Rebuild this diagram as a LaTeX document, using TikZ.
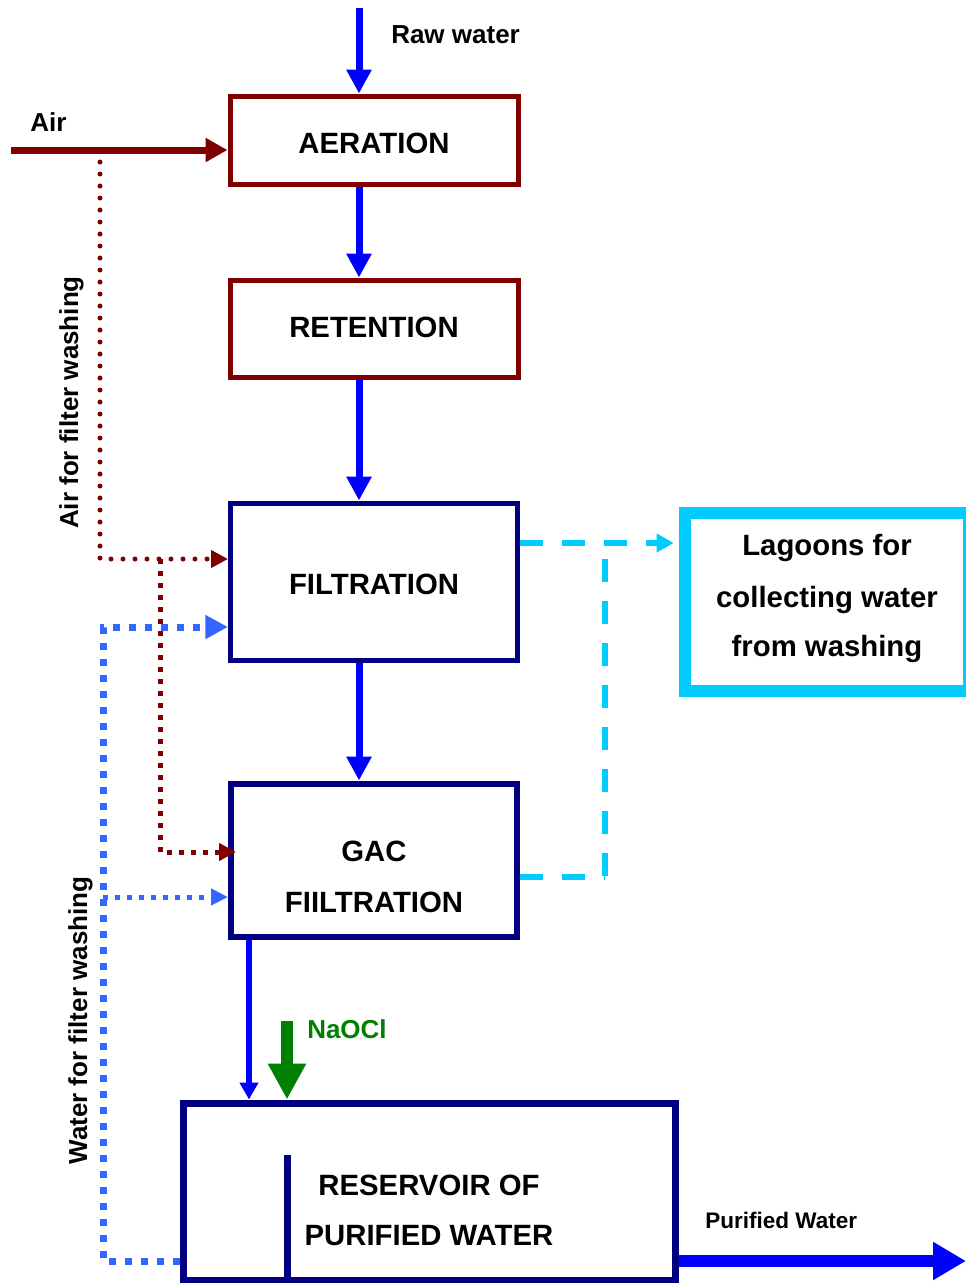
\documentclass[tikz,border=0pt]{standalone}
\usepackage{fontspec}
\setmainfont{Liberation Sans}
\usetikzlibrary{arrows.meta}
\definecolor{airred}{RGB}{128,0,0}
\definecolor{boxnavy}{RGB}{0,0,128}
\definecolor{flowblue}{RGB}{0,0,255}
\definecolor{washcyan}{RGB}{0,204,255}
\definecolor{washblue}{RGB}{51,102,255}
\definecolor{chlorgreen}{RGB}{0,128,0}
\begin{document}
\begin{tikzpicture}[x=0.75pt,y=-0.75pt,
  stagebox/.style={draw,fill=white,inner sep=0pt,minimum width=#1},
  boxtext/.style={font=\fontsize{22}{26}\selectfont\bfseries,anchor=base,inner sep=0pt},
  lbl/.style={font=\fontsize{19.5}{23}\selectfont\bfseries,inner sep=0pt},
  flow/.style={draw=flowblue,line width=5.25pt,-{Triangle[length=18pt,width=18pt]}},
  airflow/.style={draw=airred,line width=5.25pt,-{Triangle[length=16.5pt,width=17.25pt]}},
  airdots/.style={draw=airred,line width=3.75pt,line cap=round,dash pattern=on 0pt off 9pt,
    -{Triangle[length=12.75pt,width=12.75pt,line cap=butt]}},
  airsquares/.style={draw=airred,line width=3.75pt,dash pattern=on 3.75pt off 5.25pt,
    -{Triangle[length=12.75pt,width=12.75pt]}},
  watersq/.style={draw=washblue,line width=5.25pt,dash pattern=on 5.25pt off 6.75pt,
    -{Triangle[length=17pt,width=17pt]}},
  watersmall/.style={draw=washblue,line width=3.75pt,dash pattern=on 3.75pt off 5.25pt,
    -{Triangle[length=12.75pt,width=12pt]}},
  drain/.style={draw=washcyan,line width=4.5pt,dash pattern=on 17.25pt off 14.25pt},
  drainarrow/.style={drain,-{Triangle[length=12.75pt,width=13.5pt]}}
]
\useasboundingbox (0,0) rectangle (966,1283);

% process stages
\node[stagebox=216pt,draw=airred,line width=3.75pt,minimum height=66pt] (aer) at (374,140) {};
\node[stagebox=216pt,draw=airred,line width=3.75pt,minimum height=72.75pt] (ret) at (374,328.5) {};
\node[stagebox=215.25pt,draw=boxnavy,line width=3.75pt,minimum height=117.75pt] (fil) at (374,581.5) {};
\node[stagebox=214.5pt,draw=boxnavy,line width=4.5pt,minimum height=114.75pt] (gac) at (374,860) {};
\node[stagebox=213pt,draw=washcyan,line width=9pt,minimum height=133.5pt] (lag) at (827,602) {};
\node[stagebox=369pt,draw=boxnavy,line width=5.25pt,minimum height=132.75pt] (res) at (429,1191.5) {};

% baffle inside the reservoir
\coordinate (baffle) at (287,1155);
\draw[boxnavy,line width=5.25pt] (baffle) -- (baffle |- res.south);

% stage captions
\node[boxtext] (aer-t) at (374,153) {AERATION};
\node[boxtext] (ret-t) at (374,337) {RETENTION};
\node[boxtext] (fil-t) at (374,594) {FILTRATION};
\node[boxtext] (gac-t1) at (374,861) {GAC};
\node[boxtext] (gac-t2) at (374,912) {FIILTRATION};
\node[boxtext] (lag-t1) at (827,555) {Lagoons for};
\node[boxtext] (lag-t2) at (827,607) {collecting water};
\node[boxtext] (lag-t3) at (827,656) {from washing};
\node[boxtext] (res-t1) at (429,1195) {RESERVOIR OF};
\node[boxtext] (res-t2) at (429,1245) {PURIFIED WATER};

% main water line
\coordinate (rawin) at (359,8);
\draw[flow] (rawin) -- (rawin |- aer.north);
\draw[flow] (rawin |- aer.south) -- (rawin |- ret.north);
\draw[flow] (rawin |- ret.south) -- (rawin |- fil.north);
\draw[flow] (rawin |- fil.south) -- (rawin |- gac.north);
\coordinate (gacout) at (249,0);
\draw[flow,line width=4.5pt,-{Triangle[length=12.75pt,width=13.5pt]}] (gacout |- gac.south) -- (gacout |- res.north);

% air supply
\coordinate (airin) at (11,150);
\draw[airflow] (airin) -- (airin -| aer.west);

% chlorination
\coordinate (naocl) at (287,1021);
\draw[draw=chlorgreen,line width=9pt,-{Triangle[length=27pt,width=27pt]}] (naocl) -- (naocl |- res.north);

% purified water out
\coordinate (outend) at (966,1261);
\draw[flow,line width=9pt,-{Triangle[length=24.75pt,width=27pt]}] (outend -| res.east) -- (outend);

% air for filter washing
\coordinate (airtap) at (100,162);
\coordinate (airbend) at (100,559);
\draw[airdots] (airtap) -- (airbend) -- (airbend -| fil.west);
\coordinate (airsplit) at (160,559);
\coordinate (airgac) at (160,852);
\draw[airsquares,shorten >=-6pt] (airsplit) -- (airgac) -- (airgac -| gac.west);

% water for filter washing
\coordinate (wbot) at (103,1261);
\coordinate (wtop) at (103,627);
\draw[watersq] (wbot -| res.west) -- (wbot) -- (wtop) -- (wtop -| fil.west);
\coordinate (wgac) at (103,897);
\draw[watersmall] (wgac) -- (wgac -| gac.west);

% wash water to lagoons
\coordinate (dtop) at (605,543);
\coordinate (dbot) at (605,877);
\draw[drainarrow,shorten >=4pt] (dtop -| fil.east) -- (dtop -| lag.west);
\draw[drain] (605,559) -- (dbot);
\draw[drain] (dbot -| gac.east) -- (dbot);

% labels
\node[lbl,anchor=base west] (rawlbl) at (391,43) {Raw water};
\node[lbl,anchor=base west] (airlbl) at (30,131) {Air};
\node[lbl,anchor=base,rotate=90] (airwash) at (78,402.5) {Air for filter washing};
\node[lbl,anchor=base,rotate=90] (waterwash) at (87,1020.5) {Water for filter washing};
\node[lbl,anchor=base west,text=chlorgreen] (naocllbl) at (307,1038) {NaOCl};
\node[font=\fontsize{16.9}{20}\selectfont\bfseries,inner sep=0pt,anchor=base west] (outlbl) at (705,1228) {Purified Water};
\end{tikzpicture}
\end{document}
